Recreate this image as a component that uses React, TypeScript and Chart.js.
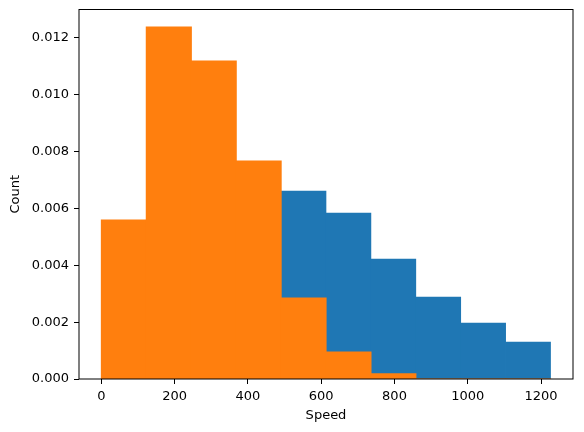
import React, { useEffect, useRef } from "react";
import { Chart, registerables } from "chart.js";

Chart.register(...registerables);

const binEdges = [0, 122.6, 245.2, 367.8, 490.4, 613, 735.6, 858.2, 980.8, 1103.4, 1226];
const blueValues = [0.003, 0.005, 0.0056, 0.006, 0.00661, 0.00584, 0.00422, 0.00288, 0.00197, 0.0013];
const orangeValues = [0.00559, 0.01238, 0.01118, 0.00767, 0.00285, 0.00095, 0.00018, 0, 0, 0];
const xTicks = [0, 200, 400, 600, 800, 1000, 1200];
const yTicks = [0, 0.002, 0.004, 0.006, 0.008, 0.01, 0.012];
const xLabel = "Speed";
const yLabel = "Count";

const FONT = "'DejaVu Sans', sans-serif";

const framePlugin = {
  id: "frame",
  afterDatasetsDraw(chart: any) {
    const { ctx, chartArea } = chart;
    ctx.save();
    ctx.strokeStyle = "#000";
    ctx.lineWidth = 1;
    ctx.strokeRect(chartArea.left, chartArea.top, chartArea.right - chartArea.left, chartArea.bottom - chartArea.top);
    ctx.restore();
  },
};

export default function App() {
  const ref = useRef<HTMLCanvasElement | null>(null);
  useEffect(() => {
    document.body.style.margin = "0";
    const centers = binEdges.slice(0, -1).map((e, i) => (e + binEdges[i + 1]) / 2);
    const span = binEdges[binEdges.length - 1] - binEdges[0];
    const xMin = binEdges[0] - 0.05 * span;
    const xMax = binEdges[binEdges.length - 1] + 0.05 * span;
    const yMax = Math.max(...orangeValues, ...blueValues) * 1.05;
    const chart = new Chart(ref.current as HTMLCanvasElement, {
      type: "bar",
      data: {
        datasets: [
          {
            label: "orange",
            data: centers.map((x, i) => ({ x, y: orangeValues[i] })),
            backgroundColor: "#ff7f0e",
            borderWidth: 0,
            grouped: false,
            barPercentage: 1,
            categoryPercentage: 1,
            inflateAmount: 0.6,
            order: 0,
          } as any,
          {
            label: "blue",
            data: centers.map((x, i) => ({ x, y: blueValues[i] })),
            backgroundColor: "#1f77b4",
            borderWidth: 0,
            grouped: false,
            barPercentage: 1,
            categoryPercentage: 1,
            order: 1,
          } as any,
        ],
      },
      options: {
        animation: false,
        responsive: false,
        layout: { padding: { left: 0, right: 11, top: 9.5, bottom: 0 } },
        plugins: { legend: { display: false }, tooltip: { enabled: false } },
        scales: {
          x: {
            type: "linear",
            min: xMin,
            max: xMax,
            offset: false,
            afterBuildTicks: (axis: any) => {
              axis.ticks = xTicks.map((v) => ({ value: v }));
            },
            afterFit: (scale: any) => {
              scale.height = 53;
              scale.paddingLeft = 0;
              scale.paddingRight = 0;
            },
            border: { display: false },
            grid: {
              offset: false,
              drawOnChartArea: false,
              drawTicks: true,
              tickLength: 5,
              tickWidth: 1,
              tickColor: "#000",
            },
            ticks: {
              color: "#000",
              font: { family: FONT, size: 13 },
              padding: 5,
              maxRotation: 0,
              autoSkip: false,
              callback: (v: any) => String(v),
            },
            title: {
              display: true,
              text: xLabel,
              color: "#000",
              font: { family: FONT, size: 13 },
              padding: { top: 0, bottom: 9 },
            },
          },
          y: {
            type: "linear",
            min: 0,
            max: yMax,
            afterBuildTicks: (axis: any) => {
              axis.ticks = yTicks.map((v) => ({ value: v }));
            },
            afterFit: (scale: any) => {
              scale.width = 79;
              scale.paddingTop = 0;
              scale.paddingBottom = 0;
            },
            border: { display: false },
            grid: {
              offset: false,
              drawOnChartArea: false,
              drawTicks: true,
              tickLength: 5,
              tickWidth: 1,
              tickColor: "#000",
            },
            ticks: {
              color: "#000",
              font: { family: FONT, size: 13 },
              padding: 5,
              autoSkip: false,
              callback: (v: any) => Number(v).toFixed(3),
            },
            title: {
              display: true,
              text: yLabel,
              color: "#000",
              font: { family: FONT, size: 13 },
              padding: { top: 8, bottom: 0 },
            },
          },
        },
      },
      plugins: [framePlugin],
    });
    return () => chart.destroy();
  }, []);
  return (
    <div style={{ width: 584, height: 432 }}>
      <canvas ref={ref} width={584} height={432} style={{ display: "block", width: 584, height: 432 }} />
    </div>
  );
}
